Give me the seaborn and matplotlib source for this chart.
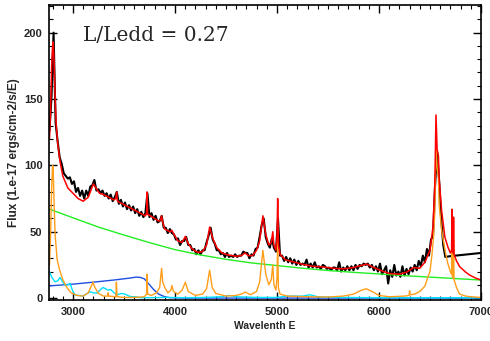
import numpy as np
import pandas as pd
import matplotlib
matplotlib.use("Agg")
import matplotlib.pyplot as plt
import seaborn as sns
from matplotlib.ticker import MultipleLocator

# observed spectrum (black), sampled every 20 E, then a smooth tail
black_wave = list(range(2770, 6651, 20)) + [6700, 6800, 6900, 7000]
black_flux = [
    126, 152, 200, 132, 118,
    106, 101, 94, 92, 90,
    91, 86, 88, 80, 83,
    77, 81, 75, 81, 77,
    84, 85, 89, 81, 82,
    79, 81, 77, 79, 75,
    78, 73, 76, 80, 71,
    74, 69, 72, 67, 70,
    66, 69, 64, 67, 62,
    65, 61, 64, 79, 61,
    64, 59, 62, 57, 58,
    62, 53, 53, 49, 52,
    49, 48, 44, 45, 40,
    43, 43, 46, 40, 40,
    36, 37, 33, 36, 33,
    36, 36, 42, 47, 53,
    44, 41, 36, 36, 33,
    34, 31, 34, 31, 32,
    31, 33, 31, 32, 32,
    35, 34, 34, 30, 33,
    32, 37, 38, 46, 55,
    60, 46, 41, 38, 45,
    38, 35, 60, 32, 32,
    28, 31, 27, 30, 26,
    29, 25, 28, 25, 26,
    25, 29, 23, 26, 23,
    27, 23, 24, 22, 25,
    24, 22, 23, 21, 23,
    23, 21, 27, 20, 23,
    21, 24, 21, 24, 21,
    25, 22, 25, 24, 26,
    25, 26, 23, 25, 21,
    24, 20, 26, 18, 21,
    24, 11, 21, 16, 25,
    17, 20, 16, 24, 17,
    22, 18, 23, 20, 25,
    21, 28, 24, 32, 27,
    37, 32, 44, 47, 85,
    110, 88, 60, 40, 31,
    31.6, 32.4, 33.2, 34,
]

# total model fit (red)
red_wave = [2770, 2780, 2790, 2800, 2806, 2815, 2825, 2835, 2850, 2873, 2900, 2950,
            3000, 3050, 3100, 3150, 3180, 3200, 3225, 3260, 3300, 3350, 3400, 3420,
            3428, 3436, 3460, 3510, 3560, 3610, 3660, 3710, 3722, 3727, 3732, 3760,
            3800, 3840, 3860, 3869, 3880, 3900, 3950, 3970, 3990, 4030, 4070, 4102,
            4130, 4170, 4220, 4270, 4310, 4340, 4370, 4410, 4460, 4520, 4600, 4650,
            4686, 4720, 4760, 4800, 4830, 4862, 4890, 4920, 4945, 4959, 4970, 4990,
            5000, 5007, 5015, 5030, 5080, 5150, 5250, 5350, 5450, 5550, 5650, 5750,
            5820, 5880, 5950, 6010, 6100, 6200, 6270, 6300, 6340, 6400, 6450, 6500,
            6530, 6548, 6559, 6570, 6583, 6590, 6614, 6646, 6675, 6700, 6712, 6716,
            6720, 6727, 6731, 6736, 6760, 6792, 6850, 6890, 6950, 7000]
red_flux = [120, 140, 172, 190, 193, 178, 152, 132, 117, 103, 92, 83,
            79, 75, 73, 76, 82, 86, 83, 79, 78, 76, 74, 75,
            80, 73, 72, 70, 68, 66, 64, 62, 64, 80, 63, 62,
            60, 58, 59, 62, 57, 52, 50, 51, 48, 43, 42, 46.5,
            41, 37, 34.5, 35, 40, 53.5, 45, 38, 34, 32.5, 31.5, 32,
            34, 32, 32, 36, 43, 62, 48, 40, 42, 50, 40, 36,
            45, 75, 40, 33, 29, 27.5, 25.5, 24, 23.5, 22.5, 22, 23,
            24.5, 25.6, 23, 21, 18.5, 18, 19.5, 21, 23, 22.5, 27, 36,
            54, 87, 138, 112, 107, 90, 66, 46, 38.6, 34, 36, 67,
            36, 34, 61, 33, 28, 23.6, 19.5, 17.3, 15, 13.6]

# power-law continuum (green)
green_wave = [2770, 3000, 3250, 3500, 3750, 4000, 4250, 4500, 4750, 5000, 5250, 5500,
              5750, 6000, 6250, 6500, 6750, 7000]
green_flux = [67, 60.5, 53.5, 47.5, 41.8, 36.5, 32.5, 29.2, 26.5, 24.5, 22.5, 20.8,
              19.4, 18.2, 16.9, 15.8, 14.7, 13.6]

# Balmer continuum (blue)
blue_wave = [2770, 3000, 3200, 3400, 3550, 3620, 3660, 3700, 3740, 3790, 3840, 3900,
             3950, 4100, 5000, 6000, 7000]
blue_flux = [9.2, 10.5, 12, 13.6, 15, 15.8, 15.6, 14.5, 11, 6.5, 3, 1,
             0.3, 0, 0, 0, 0]

# Fe II (cyan)
cyan_wave = [2770, 2790, 2824, 2850, 2873, 2900, 2922, 2950, 2971, 3000, 3020, 3060,
             3098, 3130, 3167, 3200, 3235, 3265, 3294, 3320, 3343, 3370, 3392, 3431,
             3470, 3510, 3550, 3578, 3620, 3657, 3750, 3900, 4100, 4300, 4450, 4530,
             4600, 4800, 5000, 5100, 5250, 5323, 5400, 5600, 6000, 6500, 7000]
cyan_flux = [20, 16, 12.3, 13, 15.6, 12, 9.8, 10, 11, 5, 2.3, 2,
             1.5, 3, 4.8, 4, 3.7, 6, 8, 7, 6, 6.5, 4.8, 2.3,
             3.5, 3, 1.5, 1, 1, 0.3, 0.3, 0.5, 0.3, 0.5, 1, 2,
             1, 0.5, 0.5, 1.5, 1.5, 2.5, 1, 0.5, 0.3, 0.2, 0.2]

# emission lines (orange)
orange_wave = [2770, 2780, 2790, 2800, 2806, 2815, 2825, 2845, 2870, 2900, 2940, 2980,
               3040, 3100, 3150, 3180, 3196, 3215, 3250, 3300, 3340, 3345, 3350, 3420,
               3426, 3432, 3500, 3600, 3700, 3722, 3727, 3732, 3770, 3820, 3850, 3869,
               3880, 3900, 3930, 3960, 3970, 3985, 4030, 4070, 4102, 4130, 4200, 4270,
               4310, 4340, 4365, 4400, 4500, 4600, 4650, 4690, 4740, 4800, 4830, 4862,
               4890, 4920, 4945, 4959, 4970, 4990, 5000, 5007, 5014, 5030, 5100, 5300,
               5500, 5650, 5750, 5830, 5876, 5930, 6000, 6100, 6250, 6295, 6300, 6306,
               6350, 6400, 6450, 6480, 6500, 6520, 6535, 6548, 6559, 6570, 6583, 6590,
               6616, 6650, 6675, 6700, 6712, 6716, 6720, 6727, 6731, 6736, 6760, 6790,
               6850, 6900, 7000]
orange_flux = [25, 45, 80, 100, 98, 72, 48, 29, 21, 14, 8, 4,
               2, 1.5, 4, 9, 12, 8, 3.5, 1.5, 1.5, 4, 1.5, 1,
               12, 1, 0.5, 0.5, 1, 3, 18, 3, 2, 4, 8, 22.5,
               12, 8, 4, 6, 9.5, 5, 3, 6, 12, 5, 2, 3,
               7, 21, 8, 3.5, 1.5, 2, 3, 4.5, 2.5, 5, 12, 36,
               18, 10, 14, 25, 10, 6, 15, 42, 8, 3, 1.5, 1,
               0.8, 1.5, 3, 6, 7, 5, 2, 1, 1.5, 2, 5.5, 2.5,
               3, 5, 9, 16, 20, 33, 46, 66, 118, 98, 91, 70,
               50, 35, 26, 20, 18, 50, 16, 15, 44, 14, 8, 3,
               1.5, 1, 0.5]

sns.set_theme(style="ticks")
plt.rcParams["font.family"] = ["Liberation Sans", "DejaVu Sans"]

fig = plt.figure(figsize=(4.9, 3.41), dpi=100)
ax = fig.add_axes([0.101, 0.12, 0.8806, 0.866])

series = [
    (black_wave, black_flux, "black", 1.5),
    (green_wave, green_flux, "#22ee22", 1.0),
    (blue_wave, blue_flux, "#1f4fe0", 1.0),
    (cyan_wave, cyan_flux, "#00e0ff", 1.0),
    (orange_wave, orange_flux, "#ff9e1a", 1.0),
    (red_wave, red_flux, "#ff0000", 1.1),
]
for wave, flux, col, lw in series:
    df = pd.DataFrame({"wave": wave, "flux": flux})
    sns.lineplot(data=df, x="wave", y="flux", color=col, lw=lw, ax=ax,
                 estimator=None, sort=False, legend=False)

ax.set_xlim(2770, 7000)
ax.set_ylim(-1.5, 221)
ax.xaxis.set_major_locator(MultipleLocator(1000))
ax.xaxis.set_minor_locator(MultipleLocator(100))
ax.yaxis.set_major_locator(MultipleLocator(50))
ax.yaxis.set_minor_locator(MultipleLocator(10))
ax.tick_params(which="both", direction="in", top=True, right=True, color="black")
ax.tick_params(which="major", length=6, width=1.0, pad=5)
ax.tick_params(which="minor", length=3, width=0.8)
for lab in ax.get_xticklabels() + ax.get_yticklabels():
    lab.set_fontsize(8)
    lab.set_fontweight("bold")
for sp in ax.spines.values():
    sp.set_linewidth(1.2)
    sp.set_color("black")

ax.set_xlabel("Wavelenth E", fontsize=7.5, fontweight="bold", labelpad=3)
ax.set_ylabel("Flux (1.e-17 ergs/cm-2/s/E)", fontsize=8.5, fontweight="bold", labelpad=3)

ax.text(0.078, 0.895, "L/Ledd = 0.27", transform=ax.transAxes, fontsize=14.5,
        family="DejaVu Serif", va="center", ha="left")

fig.savefig("out.png", dpi=100)
